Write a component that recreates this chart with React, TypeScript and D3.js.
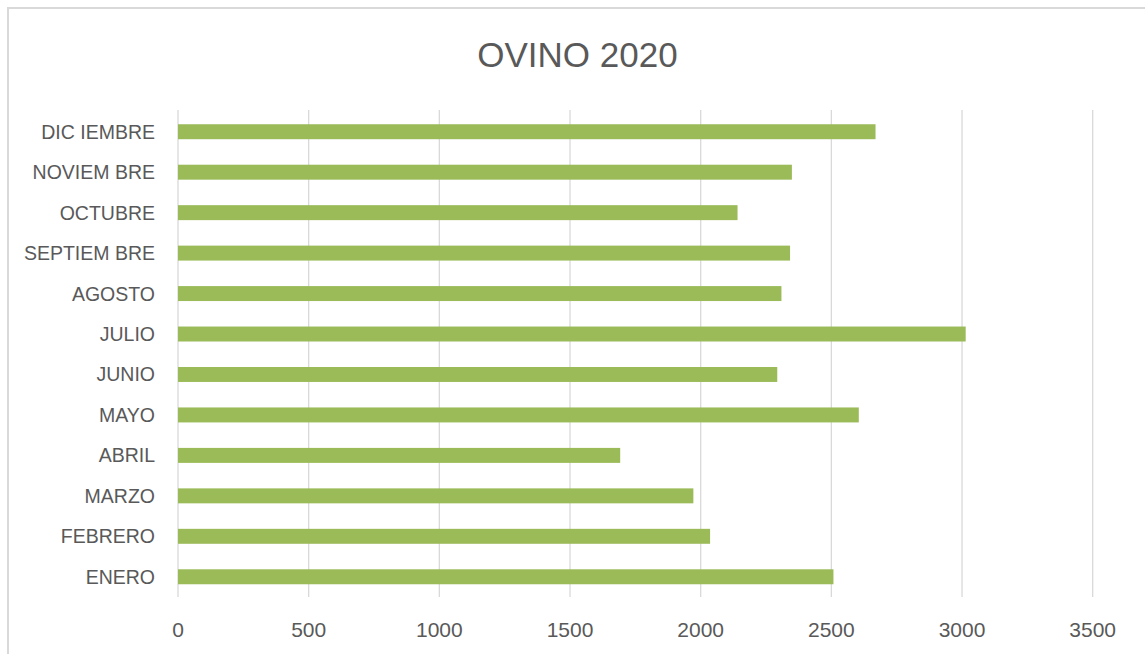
import React, { useEffect, useRef } from "react";
import * as d3 from "d3";

const months = [
  "ENERO",
  "FEBRERO",
  "MARZO",
  "ABRIL",
  "MAYO",
  "JUNIO",
  "JULIO",
  "AGOSTO",
  "SEPTIEMBRE",
  "OCTUBRE",
  "NOVIEMBRE",
  "DICIEMBRE",
];
const monthLabels = [
  "ENERO",
  "FEBRERO",
  "MARZO",
  "ABRIL",
  "MAYO",
  "JUNIO",
  "JULIO",
  "AGOSTO",
  "SEPTIEM BRE",
  "OCTUBRE",
  "NOVIEM BRE",
  "DIC IEMBRE",
];
const values = [2508, 2036, 1972, 1692, 2605, 2293, 3014, 2309, 2342, 2141, 2349, 2669];
const xTicks = [0, 500, 1000, 1500, 2000, 2500, 3000, 3500];
const title = "OVINO 2020";

const App = () => {
  const ref = useRef<SVGSVGElement>(null);

  useEffect(() => {
    const width = 1145;
    const height = 654;
    const svg = d3.select(ref.current);
    svg.selectAll("*").remove();

    const font = "'Liberation Sans', Arial, sans-serif";
    const textColor = "#595959";

    const x = d3.scaleLinear().domain([0, 3500]).range([178, 1092.7]);
    const y = d3
      .scaleBand()
      .domain(months.slice().reverse())
      .range([111.5, 597])
      .paddingInner(0.63)
      .paddingOuter(0.315);

    // chart frame
    svg
      .append("rect")
      .attr("x", 8)
      .attr("y", 8)
      .attr("width", width + 50)
      .attr("height", height + 50)
      .attr("fill", "#fff")
      .attr("stroke", "#d9d9d9")
      .attr("stroke-width", 2);

    svg
      .append("text")
      .attr("x", 577.5)
      .attr("y", 66.5)
      .attr("text-anchor", "middle")
      .attr("font-family", font)
      .attr("font-size", 35)
      .attr("fill", textColor)
      .text(title);

    // gridlines
    svg
      .append("g")
      .selectAll("line")
      .data(xTicks)
      .join("line")
      .attr("x1", (d) => x(d))
      .attr("x2", (d) => x(d))
      .attr("y1", 110)
      .attr("y2", 597)
      .attr("stroke", "#d9d9d9")
      .attr("stroke-width", 1.3);

    svg
      .append("g")
      .selectAll("rect")
      .data(months)
      .join("rect")
      .attr("x", x(0))
      .attr("y", (d) => y(d)!)
      .attr("width", (d, i) => x(values[i]) - x(0))
      .attr("height", y.bandwidth())
      .attr("fill", "#9bbb59");

    svg
      .append("g")
      .selectAll("text")
      .data(months)
      .join("text")
      .attr("x", 155)
      .attr("y", (d) => y(d)! + y.bandwidth() / 2)
      .attr("dy", "0.36em")
      .attr("text-anchor", "end")
      .attr("font-family", font)
      .attr("font-size", 19.5)
      .attr("fill", textColor)
      .text((d, i) => monthLabels[i]);

    svg
      .append("g")
      .selectAll("text")
      .data(xTicks)
      .join("text")
      .attr("x", (d) => x(d))
      .attr("y", 636.5)
      .attr("text-anchor", "middle")
      .attr("font-family", font)
      .attr("font-size", 21)
      .attr("fill", textColor)
      .text((d) => d);
  }, []);

  return (
    <svg
      ref={ref}
      width={1145}
      height={654}
      style={{ position: "absolute", left: 0, top: 0, background: "#fff" }}
    ></svg>
  );
};

export default App;
